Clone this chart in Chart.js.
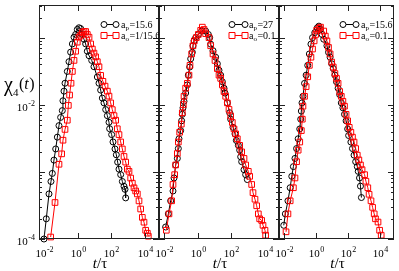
<!DOCTYPE html>
<html><head><meta charset="utf-8">
<script src="https://cdn.jsdelivr.net/npm/chart.js@4"></script>
<style>
html,body{margin:0;padding:0;background:#fff;}
#wrap{position:relative;width:399px;height:271px;overflow:hidden;}
canvas{position:absolute;left:0;top:0;}
</style></head><body>
<div id="wrap">
<canvas id="c0" width="399" height="271"></canvas>
<canvas id="c1" width="399" height="271"></canvas>
<canvas id="c2" width="399" height="271"></canvas>
</div>
<script>
// ---------- data ----------
const xTickExps = [-2, 0, 2, 4];
const yMajorExps = [-4, -3, -2, -1];
const yLabelExps = [-4, -2];
const xRange = [0.00468, 74100];
const yRange = [1e-4, 0.308];
const seriesSubs = ['p', 'o'];
const panelValues = [['15.6', '1/15.6'], ['27', '0.1'], ['15.6', '0.1']];
const yTitle = ['\u03C7', '4', '(', 't', ')'];
const xTitle = ['t', '/\u03C4'];

const p1BlackT = [0.0093,0.0128,0.0186,0.0245,0.0295,0.037,0.047,0.059,0.074,0.093,0.117,0.128,0.148,0.17,0.234,0.295,0.37,0.47,0.59,0.74,0.93,1.17,1.48,1.86,2.34,2.95,3.7,4.7,6.8,9.3,14.8,18.6,23.4,29.5,37,47,59,74,81,107,129,170,204,245,295,372,468,590,676,741];
const p1BlackChi = [1.0e-4,2.0e-4,4.7e-4,7.2e-4,9.5e-4,1.5e-3,2.2e-3,3.3e-3,4.9e-3,6.5e-3,8.2e-3,0.0115,0.016,0.021,0.0315,0.044,0.061,0.081,0.102,0.112,0.133,0.141,0.137,0.112,0.095,0.081,0.063,0.054,0.046,0.037,0.026,0.021,0.0166,0.0126,0.0107,0.0085,0.0069,0.0055,0.0044,0.0036,0.0028,0.0022,0.0018,0.0014,0.0011,9.1e-4,7.2e-4,6.1e-4,5.5e-4,4.1e-4];
const p1RedT = [0.0234,0.0427,0.074,0.107,0.129,0.17,0.234,0.27,0.32,0.39,0.47,0.59,0.74,0.93,1.17,1.48,1.86,2.34,2.95,3.7,4.7,5.9,7.4,9.3,11.7,14.8,18.6,23.4,32,43,59,74,93,117,148,186,234,295,372,468,590,741,933,1175,1479,1862,2344,2951,3715,4677,5888,7413,9333,11750,14790,17000];
const p1RedChi = [1.07e-4,3.5e-4,1.3e-3,1.86e-3,2.97e-3,4.3e-3,5.9e-3,9.8e-3,0.014,0.021,0.0315,0.046,0.063,0.086,0.102,0.109,0.12,0.124,0.124,0.112,0.102,0.081,0.068,0.059,0.052,0.044,0.037,0.0275,0.0224,0.019,0.016,0.0135,0.0107,0.0085,0.0069,0.0059,0.0044,0.0036,0.0028,0.0022,0.0017,0.0014,0.0011,0.00102,8.1e-4,6.8e-4,5.8e-4,5.2e-4,4.7e-4,3.7e-4,2.8e-4,2.1e-4,1.78e-4,1.35e-4,1.22e-4,1.1e-4];

const p2BlackT = [0.0117,0.017,0.0234,0.0324,0.0372,0.0468,0.0589,0.0676,0.0741,0.0933,0.107,0.117,0.129,0.148,0.186,0.234,0.269,0.324,0.372,0.468,0.513,0.589,0.741,1.07,1.7,2.95,4.27,5.13,5.89,8.13,11.7,14.8,18.6,23.4,29.5,37.2,42.7,58.9,81.3,93.3,129,170,204,269,324,372,427,589,741,933];
const p2BlackChi = [1.51e-4,2.37e-4,3.71e-4,5.2e-4,8.13e-4,1.27e-3,1.59e-3,2.23e-3,3.12e-3,4.13e-3,5.78e-3,7.22e-3,9.03e-3,0.0113,0.015,0.0198,0.0277,0.0366,0.0485,0.0607,0.076,0.0899,0.1005,0.112,0.126,0.126,0.112,0.1005,0.0804,0.0642,0.0513,0.041,0.0328,0.0277,0.0221,0.0177,0.015,0.0107,0.00763,0.00611,0.00462,0.00369,0.00295,0.00249,0.00211,0.00168,0.00142,0.00108,0.00091,0.000769];
const p2RedT = [0.0129,0.0186,0.0269,0.0324,0.0407,0.0468,0.0589,0.0676,0.0813,0.102,0.117,0.135,0.148,0.186,0.234,0.295,0.339,0.427,0.513,0.617,0.813,1.07,1.48,1.86,2.34,2.95,4.68,5.89,8.13,10.7,14.8,18.6,23.4,29.5,37.2,46.8,58.9,74.1,93.3,117,148,186,234,324,427,589,741,1070,1290,1700,2040,2690,3390,4270,5130,6760,8130,10700,11700];
const p2RedChi = [1.35e-4,2.37e-4,3.71e-4,6.5e-4,9.1e-4,1.27e-3,1.88e-3,2.79e-3,3.9e-3,5.16e-3,7.63e-3,0.0101,0.0134,0.0177,0.0209,0.0277,0.0388,0.0574,0.076,0.0899,0.1005,0.112,0.129,0.144,0.133,0.115,0.1005,0.076,0.0574,0.0459,0.0347,0.0277,0.0248,0.0198,0.0158,0.0134,0.0107,0.00855,0.00683,0.00546,0.00437,0.00369,0.00312,0.00249,0.00199,0.00159,0.00127,0.00102,0.00086,0.00065,0.000491,0.000392,0.000313,0.000237,0.0002,0.000189,0.00016,0.000135,0.000114];

const p3BlackT = [0.0093,0.0117,0.017,0.0234,0.0295,0.0372,0.0468,0.0589,0.0741,0.0933,0.107,0.117,0.129,0.148,0.186,0.234,0.295,0.372,0.468,0.589,0.813,1.17,1.48,1.86,2.34,2.95,4.68,5.89,7.41,9.33,11.7,14.8,18.6,23.4,29.5,37.2,46.8,58.9,74.1,93.3,107,148,186,234,295,372,427,513,589,676];
const p3BlackChi = [1.6e-4,2.37e-4,3.71e-4,5.81e-4,8.6e-4,1.2e-3,1.59e-3,2.23e-3,3.12e-3,4.37e-3,6.11e-3,8.07e-3,0.0107,0.0134,0.0209,0.0277,0.0388,0.0574,0.0804,0.1005,0.119,0.141,0.149,0.133,0.112,0.0951,0.076,0.0607,0.0513,0.041,0.0347,0.0277,0.0221,0.0177,0.0142,0.0107,0.00903,0.00722,0.00578,0.00437,0.00349,0.00279,0.00223,0.00178,0.00142,0.0012,0.00102,0.000813,0.000614,0.000415];
const p3RedT = [0.0129,0.017,0.0234,0.0372,0.0468,0.0589,0.0741,0.0933,0.117,0.135,0.148,0.186,0.234,0.295,0.372,0.468,0.589,0.741,0.933,1.07,1.48,1.86,2.95,3.72,4.68,5.89,7.41,9.33,11.7,14.8,18.6,23.4,29.5,37.2,46.8,58.9,74.1,93.3,117,148,186,234,295,372,468,589,741,1070,1290,1700,2040,2690,3390,4270,5130,7410,9330,11700];
const p3RedChi = [1.28e-4,2.37e-4,3.71e-4,5.81e-4,8.13e-4,1.42e-3,2.11e-3,2.79e-3,4.13e-3,6.11e-3,9.55e-3,0.0134,0.0187,0.0262,0.0388,0.0513,0.0679,0.0899,0.112,0.129,0.138,0.144,0.126,0.106,0.0899,0.0718,0.0574,0.0434,0.0366,0.0293,0.0248,0.0209,0.0158,0.0134,0.0113,0.00955,0.00722,0.00578,0.00462,0.0039,0.0033,0.00279,0.00223,0.00178,0.00151,0.00127,0.00108,0.00091,0.000727,0.000581,0.000464,0.000371,0.000296,0.000237,0.0002,0.000179,0.000135,0.000114];

const seriesT = [[p1BlackT, p1RedT], [p2BlackT, p2RedT], [p3BlackT, p3RedT]];
const seriesChi = [[p1BlackChi, p1RedChi], [p2BlackChi, p2RedChi], [p3BlackChi, p3RedChi]];

// ---------- layout / style ----------
const W = 399, H = 271;
const LAYOUT = [
  {L: 39, R: 159, leg: [65, 77, 82]},
  {L: 159, R: 279, leg: [73, 86, 90]},
  {L: 279, R: 398, leg: [64, 77, 82]}
];
const TOP = 0, BOTTOM = 239;
const FONT = '"Liberation Serif","Times New Roman",serif';
const AXIS = '#222';
const COLORS = ['#000000', '#ff0000'];

function zip(a, b) { return a.map((v, i) => ({x: v, y: b[i]})); }

function supText(ctx, x, y, base, exp, bs, es, align) {
  ctx.font = bs + 'px ' + FONT;
  const wb = ctx.measureText(base).width;
  ctx.font = es + 'px ' + FONT;
  const we = ctx.measureText(exp).width;
  const total = wb + we + 0.5;
  const x0 = align === 'center' ? x - total / 2 : align === 'right' ? x - total : x;
  ctx.textAlign = 'left'; ctx.textBaseline = 'alphabetic';
  ctx.font = bs + 'px ' + FONT; ctx.fillText(base, x0, y);
  ctx.font = es + 'px ' + FONT; ctx.fillText(exp, x0 + wb + 0.5, y - bs * 0.45);
}

function line(ctx, x1, y1, x2, y2) { ctx.beginPath(); ctx.moveTo(x1, y1); ctx.lineTo(x2, y2); ctx.stroke(); }

function framePlugin(idx) {
  return {
    id: 'frame' + idx,
    afterDraw(chart) {
      const ctx = chart.ctx, a = chart.chartArea, xs = chart.scales.x, ys = chart.scales.y;
      ctx.save();
      ctx.strokeStyle = AXIS; ctx.lineWidth = 1; ctx.fillStyle = '#000';
      ctx.strokeRect(a.left + 0.5, a.top + 0.5, a.right - a.left - 1, a.bottom - a.top - 1);
      // y ticks (majors + log minors), both sides
      yMajorExps.forEach(e => {
        for (let m = 1; m <= 9; m++) {
          const v = m * Math.pow(10, e);
          if (v < ys.min || v > ys.max) continue;
          const py = Math.round(ys.getPixelForValue(v)) + 0.5;
          const len = m === 1 ? 6 : 3;
          line(ctx, a.left, py, a.left + len, py);
          line(ctx, a.right, py, a.right - len, py);
        }
      });
      // x ticks, top and bottom
      xTickExps.forEach(e => {
        const px = Math.round(xs.getPixelForValue(Math.pow(10, e))) + 0.5;
        line(ctx, px, a.top, px, a.top + 6);
        line(ctx, px, a.bottom, px, a.bottom - 6);
        supText(ctx, px, 257, '10', String(e), 11, 8, 'center');
      });
      // y labels only on first panel
      if (idx === 0) {
        yLabelExps.forEach(e => {
          const py = ys.getPixelForValue(Math.pow(10, e));
          supText(ctx, a.left - 4, py + 6, '10', String(e), 11, 8, 'right');
        });
        // y title chi_4(t)
        let x = 4;
        ctx.textAlign = 'left';
        ctx.font = '20px ' + FONT; ctx.fillText(yTitle[0], x, 91); x += ctx.measureText(yTitle[0]).width;
        ctx.font = '11px ' + FONT; ctx.fillText(yTitle[1], x, 96); x += ctx.measureText(yTitle[1]).width + 0.5;
        ctx.font = '16px ' + FONT; ctx.fillText(yTitle[2], x, 89); x += ctx.measureText(yTitle[2]).width;
        ctx.font = 'italic 16px ' + FONT; ctx.fillText(yTitle[3], x, 89); x += ctx.measureText(yTitle[3]).width + 0.5;
        ctx.font = '16px ' + FONT; ctx.fillText(yTitle[4], x, 89);
      }
      // x title t/tau
      {
        ctx.font = 'italic 15px ' + FONT;
        const w1 = ctx.measureText(xTitle[0]).width;
        ctx.font = '15px ' + FONT;
        const w2 = ctx.measureText(xTitle[1]).width;
        const cx = (a.left + a.right) / 2 + 1;
        let x = cx - (w1 + w2) / 2;
        ctx.textAlign = 'left';
        ctx.font = 'italic 15px ' + FONT; ctx.fillText(xTitle[0], x, 268);
        ctx.font = '15px ' + FONT; ctx.fillText(xTitle[1], x + w1, 268);
      }
      // legend
      const lg = LAYOUT[idx].leg;
      chart.data.datasets.forEach((ds, k) => {
        const ry = 24 + 11 * k;
        const x1 = a.left + lg[0], x2 = a.left + lg[1], tx = a.left + lg[2];
        ctx.strokeStyle = ds.borderColor; ctx.lineWidth = 1;
        line(ctx, x1, ry + 0.5, x2, ry + 0.5);
        [x1, x2].forEach(px => {
          ctx.beginPath();
          if (ds.pointStyle === 'circle') ctx.arc(px, ry + 0.5, 3, 0, Math.PI * 2);
          else ctx.rect(px - 3, ry - 2.5, 6, 6);
          ctx.fillStyle = '#fff'; ctx.fill(); ctx.stroke();
        });
        ctx.fillStyle = '#000';
        ctx.textAlign = 'left';
        ctx.font = '10px ' + FONT;
        ctx.fillText('a', tx, ry + 3.5);
        let w = ctx.measureText('a').width;
        ctx.font = '7px ' + FONT;
        ctx.fillText(seriesSubs[k], tx + w, ry + 6);
        w += ctx.measureText(seriesSubs[k]).width;
        ctx.font = '10px ' + FONT;
        ctx.fillText('=' + panelValues[idx][k], tx + w + 0.5, ry + 3.5);
      });
      ctx.restore();
    }
  };
}

function makeChart(idx) {
  const P = LAYOUT[idx];
  const datasets = [0, 1].map(k => ({
    label: 'a' + seriesSubs[k] + '=' + panelValues[idx][k],
    data: zip(seriesT[idx][k], seriesChi[idx][k]),
    showLine: true,
    borderColor: COLORS[k],
    borderWidth: 1,
    pointStyle: k === 0 ? 'circle' : 'rect',
    pointRadius: k === 0 ? 3 : 4,
    pointBorderColor: COLORS[k],
    pointBackgroundColor: 'rgba(255,255,255,0)',
    pointBorderWidth: 1,
    tension: 0,
    clip: false,
    order: k === 0 ? 2 : 1
  }));
  new Chart(document.getElementById('c' + idx), {
    type: 'scatter',
    data: {datasets},
    options: {
      responsive: false,
      animation: false,
      events: [],
      layout: {padding: {left: P.L, right: W - P.R, top: TOP, bottom: H - BOTTOM}},
      plugins: {legend: {display: false}, tooltip: {enabled: false}},
      scales: {
        x: {type: 'logarithmic', min: xRange[0], max: xRange[1], display: false},
        y: {type: 'logarithmic', min: yRange[0], max: yRange[1], display: false}
      }
    },
    plugins: [framePlugin(idx)]
  });
}
[0, 1, 2].forEach(makeChart);
</script>
</body></html>
